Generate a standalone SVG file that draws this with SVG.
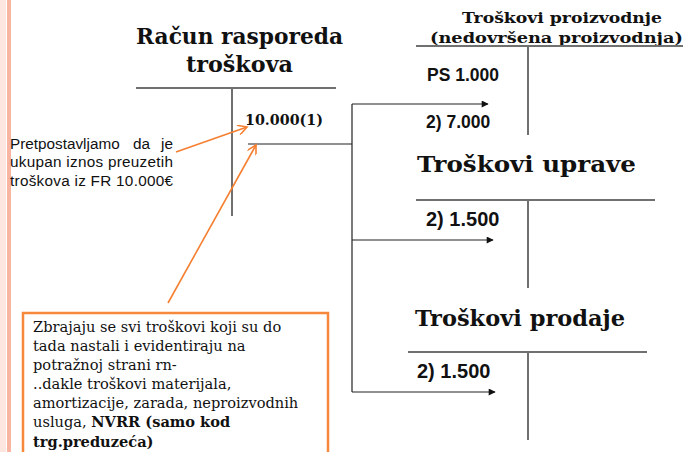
<svg xmlns="http://www.w3.org/2000/svg" width="686" height="452" viewBox="0 0 686 452">
<defs>
<style>
.title{font-family:"DejaVu Serif",serif;font-weight:bold;fill:#111;}
.amt{font-family:"Liberation Sans",Arial,sans-serif;font-weight:bold;fill:#111;}
.tline{stroke:#707070;stroke-width:2;fill:none;}
.conn{stroke:#222;stroke-width:1.2;fill:none;}
.orange{stroke:#F57F30;stroke-width:1.6;fill:none;}
.note{font-family:"Liberation Sans",Arial,sans-serif;font-size:15.3px;fill:#111;}
.box{font-family:"DejaVu Serif",serif;font-size:14.6px;fill:#111;}
</style>
<marker id="ah" viewBox="0 0 10 10" refX="9" refY="5" markerWidth="9" markerHeight="7" markerUnits="userSpaceOnUse" orient="auto">
<path d="M0,0 L10,5 L0,10 z" fill="#111"/>
</marker>
<marker id="oh" viewBox="0 0 10 10" refX="9" refY="5" markerWidth="12" markerHeight="10" markerUnits="userSpaceOnUse" orient="auto">
<path d="M0,0 L9,5 L0,10" fill="none" stroke="#F57F30" stroke-width="1.6"/>
</marker>
</defs>
<rect x="0" y="0" width="686" height="452" fill="#fff"/>
<rect x="0" y="0" width="6" height="452" fill="#FDE6DF"/>
<rect x="7" y="0" width="4" height="452" fill="#F8B5A2"/>

<g id="racun-rasporeda">
<text class="title" x="136" y="44" font-size="22" textLength="207" lengthAdjust="spacingAndGlyphs">Račun rasporeda</text>
<text class="title" x="186" y="72" font-size="22" textLength="107" lengthAdjust="spacingAndGlyphs">troškova</text>
<line class="tline" x1="136" y1="88" x2="336" y2="88"/>
<line class="tline" x1="232" y1="88" x2="232" y2="216"/>
<text class="title" x="245" y="125" font-size="14" textLength="78" lengthAdjust="spacingAndGlyphs">10.000(1)</text>
</g>

<g id="troskovi-proizvodnje">
<text class="title" x="462" y="23" font-size="15" textLength="200" lengthAdjust="spacingAndGlyphs">Troškovi proizvodnje</text>
<text class="title" x="430" y="43" font-size="15.5" textLength="253" lengthAdjust="spacingAndGlyphs">(nedovršena proizvodnja)</text>
<line class="tline" x1="416" y1="46" x2="683" y2="46"/>
<line class="tline" x1="528" y1="46" x2="528" y2="135"/>
<text class="amt" x="427" y="81" font-size="17.5">PS 1.000</text>
<text class="amt" x="426" y="128" font-size="17.5">2) 7.000</text>
</g>

<g id="troskovi-uprave">
<text class="title" x="417" y="172" font-size="22" textLength="219" lengthAdjust="spacingAndGlyphs">Troškovi uprave</text>
<line class="tline" x1="416" y1="200" x2="655" y2="200"/>
<line class="tline" x1="528" y1="200" x2="528" y2="288"/>
<text class="amt" x="426" y="226" font-size="20">2) 1.500</text>
</g>

<g id="troskovi-prodaje">
<text class="title" x="415" y="326" font-size="22" textLength="210" lengthAdjust="spacingAndGlyphs">Troškovi prodaje</text>
<line class="tline" x1="408" y1="352" x2="647" y2="352"/>
<line class="tline" x1="528" y1="352" x2="528" y2="440"/>
<text class="amt" x="417" y="378" font-size="20">2) 1.500</text>
</g>

<g id="napomena-fr">
<text class="note" x="10" y="149">Pretpostavljamo</text>
<text class="note" x="133" y="149">da</text>
<text class="note" x="173" y="149" text-anchor="end">je</text>
<text class="note" x="10" y="167" textLength="163" lengthAdjust="spacing">ukupan iznos preuzetih</text>
<text class="note" x="10" y="186" textLength="163" lengthAdjust="spacing">troškova iz FR 10.000€</text>
</g>

<g id="napomena-box">
<rect x="23" y="313" width="305" height="160" fill="#fff" stroke="#F5883A" stroke-width="2.5"/>
<text class="box" x="33" y="332">Zbrajaju se svi troškovi koji su do</text>
<text class="box" x="33" y="351">tada nastali i evidentiraju na</text>
<text class="box" x="33" y="370">potražnoj strani rn-</text>
<text class="box" x="33" y="389">..dakle troškovi materijala,</text>
<text class="box" x="33" y="408">amortizacije, zarada, neproizvodnih</text>
<text class="box" x="33" y="427">usluga, <tspan font-weight="bold">NVRR (samo kod</tspan></text>
<text class="box" x="33" y="447" font-weight="bold">trg.preduzeća)</text>
</g>

<g id="connectors">
<line class="conn" x1="248" y1="144" x2="352" y2="144"/>
<line class="conn" x1="352" y1="104" x2="352" y2="392"/>
<line class="conn" x1="352" y1="104" x2="488" y2="104" marker-end="url(#ah)"/>
<line class="conn" x1="352" y1="240" x2="493" y2="240" marker-end="url(#ah)"/>
<line class="conn" x1="352" y1="392" x2="495" y2="392" marker-end="url(#ah)"/>
<line class="orange" x1="176" y1="152" x2="247" y2="127" marker-end="url(#oh)"/>
<line class="orange" x1="168" y1="303" x2="256" y2="145" marker-end="url(#oh)"/>
</g>
</svg>
